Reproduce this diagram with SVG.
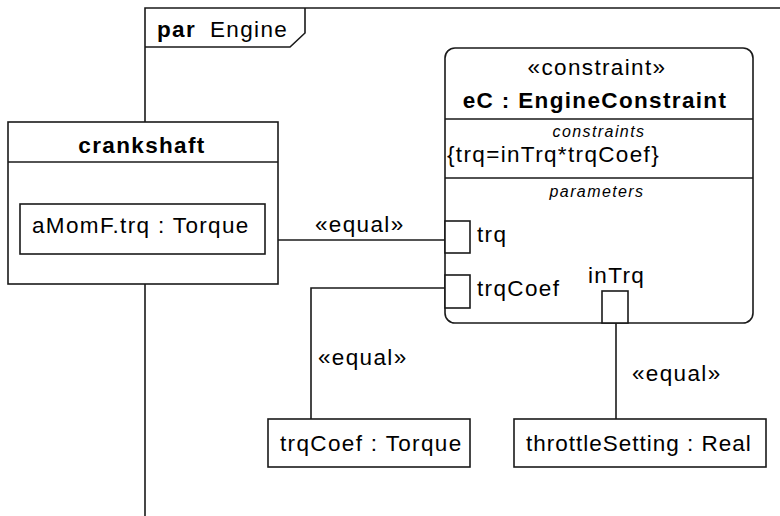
<svg xmlns="http://www.w3.org/2000/svg" width="780" height="516" viewBox="0 0 780 516">
<style>
.ln{fill:none;stroke:#1a1a1a;stroke-width:1.6}
.bx{fill:#fff;stroke:#1a1a1a;stroke-width:1.6}
.t{font-family:"Liberation Sans",Arial,sans-serif;font-size:22.5px;letter-spacing:1.35px;fill:#000}
.b{font-weight:bold}
.i{font-style:italic;font-size:16px;letter-spacing:1.4px}
.m{text-anchor:middle}
</style>
<rect width="780" height="516" fill="#fff"/>
<g id="frame">
<path class="ln" d="M145,516 V8 H782 M145,47 H290 L305,33 V8"/>
<text class="t b" x="157" y="37">par</text>
<text class="t" x="210" y="37">Engine</text>
</g>
<g id="connectors">
<path class="ln" d="M265,240 H445"/>
<path class="ln" d="M445,288 H311 V419"/>
<path class="ln" d="M616,323 V419"/>
<text class="t" x="315" y="232">«equal»</text>
<text class="t" x="318" y="365">«equal»</text>
<text class="t" x="632" y="381">«equal»</text>
</g>
<g id="crankshaft">
<rect class="bx" x="8" y="122" width="270" height="162"/>
<path class="ln" d="M8,162 H278"/>
<text class="t b m" x="142" y="153">crankshaft</text>
<g id="aMomF">
<rect class="bx" x="20" y="204" width="245" height="50"/>
<text class="t" x="32" y="233">aMomF.trq  : Torque</text>
</g>
</g>
<g id="eC">
<rect class="bx" x="445" y="48" width="308" height="275" rx="10" ry="10"/>
<path class="ln" d="M445,119 H753 M445,178 H753"/>
<text class="t m" x="597" y="75">«constraint»</text>
<text class="t b m" x="595" y="108">eC : EngineConstraint</text>
<text class="t i m" x="599" y="137">constraints</text>
<text class="t" x="447" y="162">{trq=inTrq*trqCoef}</text>
<text class="t i m" x="597" y="197">parameters</text>
<g id="port-trq">
<rect class="bx" x="445" y="221" width="25" height="32"/>
<text class="t" x="477" y="242">trq</text>
</g>
<g id="port-trqCoef">
<rect class="bx" x="445" y="275" width="25" height="33"/>
<text class="t" x="477" y="296">trqCoef</text>
</g>
<g id="port-inTrq">
<rect class="bx" x="602" y="291" width="26" height="32"/>
<text class="t" x="588" y="283">inTrq</text>
</g>
</g>
<g id="trqCoef">
<rect class="bx" x="268" y="419" width="202" height="48"/>
<text class="t" x="280" y="451">trqCoef  : Torque</text>
</g>
<g id="throttleSetting">
<rect class="bx" x="514" y="419" width="252" height="48"/>
<text class="t" x="526" y="451" style="letter-spacing:1px">throttleSetting : Real</text>
</g>
</svg>
